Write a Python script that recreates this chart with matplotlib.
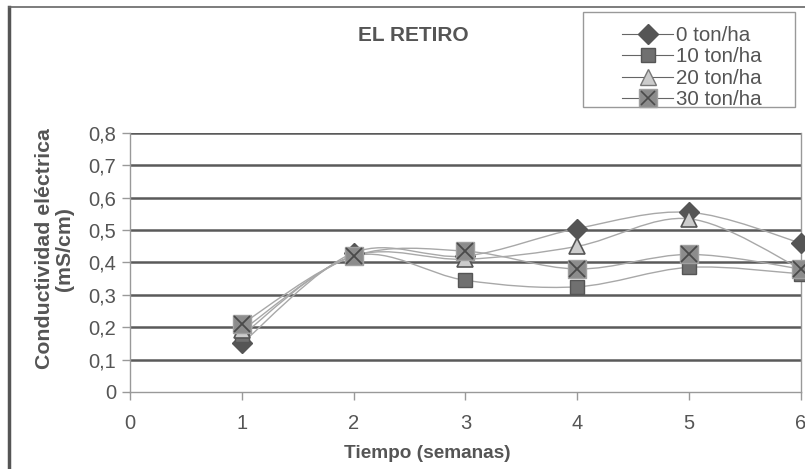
import numpy as np
import matplotlib.pyplot as plt
from matplotlib.path import Path
from matplotlib.patches import PathPatch, Rectangle
from matplotlib.lines import Line2D

plt.rcParams['font.family'] = ['Liberation Sans', 'DejaVu Sans']

semanas = [1, 2, 3, 4, 5, 6]
t0 = [0.15, 0.43, 0.42, 0.505, 0.555, 0.46]
t10 = [0.175, 0.42, 0.345, 0.325, 0.385, 0.365]
t20 = [0.19, 0.42, 0.41, 0.45, 0.535, 0.38]
t30 = [0.21, 0.42, 0.435, 0.38, 0.425, 0.38]
etiquetas = ['0 ton/ha', '10 ton/ha', '20 ton/ha', '30 ton/ha']

txt = '#555555'
grid_c = '#5a5a5a'
line_c = '#a8a8a8'


def smooth_path(x, y, k=1/6):
    # catmull-rom style bezier, like excel "smoothed line"
    x = np.asarray(x, float); y = np.asarray(y, float)
    verts = [(x[0], y[0])]
    codes = [Path.MOVETO]
    n = len(x)
    for i in range(n - 1):
        p0 = i - 1 if i > 0 else i
        p3 = i + 2 if i + 2 < n else i + 1
        c1 = (x[i] + (x[i+1] - x[p0]) * k, y[i] + (y[i+1] - y[p0]) * k)
        c2 = (x[i+1] - (x[p3] - x[i]) * k, y[i+1] - (y[p3] - y[i]) * k)
        verts += [c1, c2, (x[i+1], y[i+1])]
        codes += [Path.CURVE4] * 3
    return Path(verts, codes)


fig = plt.figure(figsize=(8.05, 4.69), dpi=100)
ax = fig.add_axes([0.1615, 0.1642, 0.8335, 0.5522])

# chart frame (cropped)
fig.add_artist(Line2D([0.0118, 0.0118], [0, 0.985], transform=fig.transFigure, color='#555555', lw=2.5))
fig.add_artist(Line2D([0.0118, 1.0], [0.985, 0.985], transform=fig.transFigure, color='#666666', lw=1.2))

for yv in np.arange(0.1, 0.81, 0.1):
    ax.axhline(yv, color=grid_c, lw=1.8, zorder=1)

for s in [t0, t10, t20, t30]:
    ax.add_patch(PathPatch(smooth_path(semanas, s), fill=False, ec=line_c, lw=1.0, zorder=2, clip_on=False))

ax.plot(semanas, t0, ls='none', marker='D', ms=10, mfc='#555555', mec='#555555', zorder=3, clip_on=False)
ax.plot(semanas, t10, ls='none', marker='s', ms=9.5, mfc='#707070', mec='#555555', mew=1, zorder=3, clip_on=False)
ax.plot(semanas, t20, ls='none', marker='^', ms=11, mfc='#cccccc', mec='#555555', mew=1.2, zorder=3, clip_on=False)
ax.plot(semanas, t30, ls='none', marker='s', ms=13.5, mfc='#8c8c8c', mec='#a0a0a0', mew=1, zorder=4, clip_on=False)
ax.plot(semanas, t30, ls='none', marker='x', ms=11, mec='#4a4a4a', mew=1.3, zorder=5, clip_on=False)

ax.set_xlim(0, 6)
ax.set_ylim(0, 0.8)
ax.set_xticks(range(0, 7))
ax.set_yticks(np.arange(0, 0.81, 0.1))
ax.set_yticklabels([('%.1f' % v).replace('.', ',') if v > 0 else '0' for v in np.arange(0, 0.81, 0.1)])
ax.tick_params(axis='both', colors='#999999', labelcolor=txt, labelsize=14.5, length=6, width=1)
ax.tick_params(axis='x', pad=10)
ax.tick_params(axis='y', pad=4)
ax.spines['top'].set_visible(False)
for sp in ['left', 'bottom', 'right']:
    ax.spines[sp].set_color('#999999')
    ax.spines[sp].set_linewidth(1)

fig.text(0.514, 0.925, 'EL RETIRO', ha='center', va='center', fontsize=15, fontweight='bold', color=txt)
fig.text(0.531, 0.034, 'Tiempo (semanas)', ha='center', va='center', fontsize=13.7, fontweight='bold', color=txt)
fig.text(0.068, 0.469, 'Conductividad eléctrica\n(mS/cm)', ha='center', va='center', rotation=90,
         fontsize=15.3, fontweight='bold', color=txt, linespacing=1.1)

# legend box (wider padding than matplotlib's frame allows)
fig.add_artist(Rectangle((0.7242, 0.7719), 0.2634, 0.2026, transform=fig.transFigure,
                         fill=False, ec='#999999', lw=1))

h_sq = Line2D([], [], color='#666666', lw=0.8, marker='s', ms=12.5, mfc='#8c8c8c', mec='#a0a0a0')
h_x = Line2D([], [], ls='none', marker='x', ms=10, mec='#4a4a4a', mew=1.2)
handles = [
    Line2D([], [], color='#666666', lw=0.8, marker='D', ms=10, mfc='#555555', mec='#555555'),
    Line2D([], [], color='#666666', lw=0.8, marker='s', ms=9.5, mfc='#707070', mec='#555555'),
    Line2D([], [], color='#666666', lw=0.8, marker='^', ms=11, mfc='#cccccc', mec='#777777'),
    (h_sq, h_x),
]
leg = fig.legend(handles, etiquetas, loc='upper left', bbox_to_anchor=(0.7727, 0.945), frameon=False,
                 fontsize=14.8, handlelength=2.48, handletextpad=0.15, labelspacing=0.12,
                 borderpad=0.0, borderaxespad=0.0, labelcolor=txt)

fig.savefig('out.png', dpi=100)
